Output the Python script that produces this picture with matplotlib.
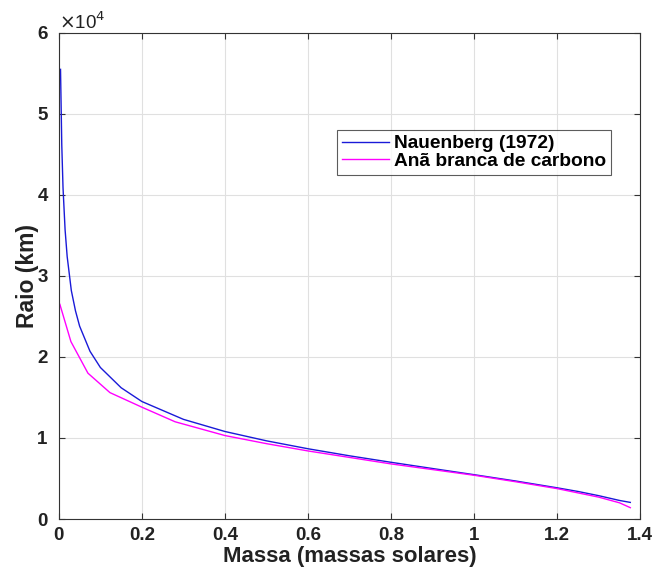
import matplotlib
matplotlib.use("Agg")
import matplotlib.pyplot as plt
import numpy as np

# Nauenberg (1972) curve (mass in solar masses, radius in km)
mass_nau = [0.004, 0.007, 0.01, 0.015, 0.02, 0.03, 0.04, 0.05, 0.075, 0.1, 0.15, 0.2,
            0.3, 0.4, 0.5, 0.6, 0.7, 0.8, 0.9, 1.0, 1.1, 1.2, 1.25, 1.3, 1.35, 1.376]
radius_nau = [55500, 46200, 40900, 35700, 32400, 28200, 25700, 23800, 20700, 18700,
              16200, 14500, 12300, 10800, 9650, 8670, 7800, 7000, 6230, 5470, 4690,
              3850, 3400, 2880, 2290, 2050]

# Carbon white dwarf curve
mass_c = [0.0024, 0.029, 0.070, 0.123, 0.2, 0.28, 0.4, 0.5, 0.6, 0.7, 0.8, 0.9,
          1.0, 1.1, 1.2, 1.3, 1.35, 1.376]
radius_c = [26500, 21900, 18000, 15600, 13800, 12000, 10300, 9300, 8400, 7600,
            6800, 6100, 5400, 4600, 3750, 2700, 2000, 1400]

xticks = [0, 0.2, 0.4, 0.6, 0.8, 1, 1.2, 1.4]
xticklabels = ["0", "0.2", "0.4", "0.6", "0.8", "1", "1.2", "1.4"]
yticks = [0, 10000, 20000, 30000, 40000, 50000, 60000]
yticklabels = ["0", "1", "2", "3", "4", "5", "6"]

plt.rcParams['font.family'] = ['Liberation Sans', 'DejaVu Sans']

fig = plt.figure(figsize=(6.54, 5.77), dpi=100)
ax = fig.add_axes([0.090, 0.1005, 0.889, 0.8425])

ax.plot(mass_nau, radius_nau, color='#1a1ad8', lw=1.0, label='Nauenberg (1972)')
ax.plot(mass_c, radius_c, color='#ff00ff', lw=1.0, label='Anã branca de carbono')

ax.set_xlim(0, 1.4)
ax.set_ylim(0, 60000)
ax.set_xticks(xticks)
ax.set_xticklabels(xticklabels)
ax.set_yticks(yticks)
ax.set_yticklabels(yticklabels)

ax.grid(True, color='#e0e0e0', lw=0.8)
ax.set_axisbelow(True)
for s in ax.spines.values():
    s.set_color('#333333')
    s.set_linewidth(0.8)
ax.tick_params(direction='in', top=True, right=True, length=4, width=0.8,
               color='#333333', labelsize=13.5, labelcolor='#222222')
ax.tick_params(axis='x', pad=6)
ax.tick_params(axis='y', pad=8)
for lab in ax.get_xticklabels() + ax.get_yticklabels():
    lab.set_fontweight('bold')

ax.set_xlabel('Massa (massas solares)', fontsize=16, fontweight='bold', color='#222222', labelpad=1)
ax.set_ylabel('Raio (km)', fontsize=16.5, fontweight='bold', color='#222222', labelpad=-1)

ax.text(0.0, 1.0, r'$\times$10$^4$', transform=ax.transAxes, fontsize=13.5,
        color='#222222', ha='left', va='bottom')

leg = ax.legend(loc='upper left', bbox_to_anchor=(0.478, 0.80),
                prop={'weight': 'bold', 'size': 13.8}, frameon=True, fancybox=False,
                edgecolor='#333333', borderpad=0.25, labelspacing=0.0,
                handlelength=2.45, handletextpad=0.3, borderaxespad=0)
leg.get_frame().set_linewidth(0.8)

fig.savefig('out.png', dpi=100)
